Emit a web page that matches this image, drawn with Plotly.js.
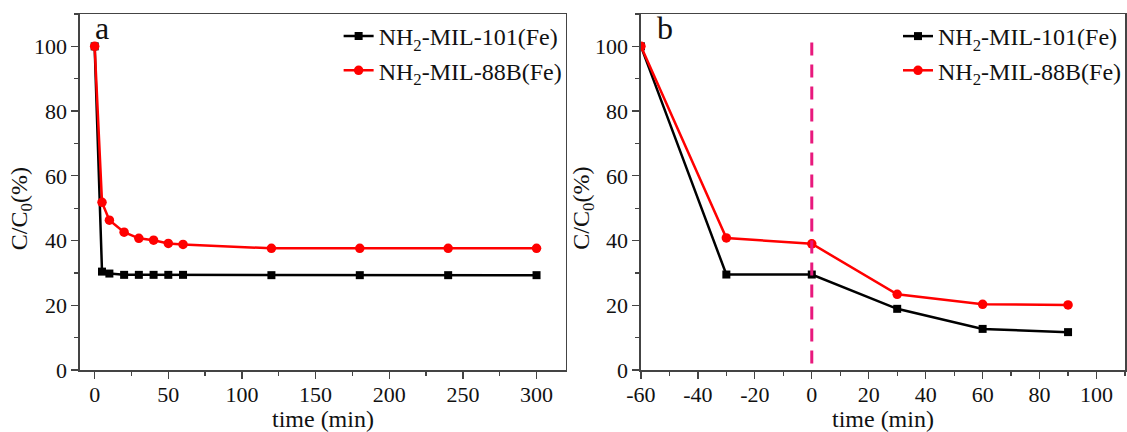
<!DOCTYPE html>
<html>
<head>
<meta charset="utf-8">
<script src="https://cdn.plot.ly/plotly-3.0.1.min.js"></script>
<style>html,body{margin:0;padding:0;background:#fff;}#chart{width:1127px;height:432px;}</style>
</head>
<body>
<div id="chart"></div>
<script>
// Panel a
const timeA = [0, 5, 10, 20, 30, 40, 50, 60, 120, 180, 240, 300];
const mil101A = [100, 30.4, 29.8, 29.4, 29.4, 29.4, 29.4, 29.4, 29.3, 29.3, 29.3, 29.3];
const mil88bA = [100, 51.8, 46.3, 42.6, 40.7, 40.1, 39.1, 38.8, 37.6, 37.6, 37.6, 37.6];
// Panel b
const timeB = [-60, -30, 0, 30, 60, 90];
const mil101B = [100, 29.5, 29.5, 18.9, 12.7, 11.7];
const mil88bB = [100, 40.8, 39.0, 23.4, 20.3, 20.1];
const seriesNames = ["NH<sub>2</sub>-MIL-101(Fe)", "NH<sub>2</sub>-MIL-88B(Fe)"];
const panelLabels = ["a", "b"];
const xTickValsB = [-60, -40, -20, 0, 20, 40, 60, 80, 100];
const xTickTextB = ["-60", "-40", "-20", "0", "20", "40", "60", "80", "100"];
const xTitle = "time (min)";
const yTitle = "C/C<sub>0</sub>(%)";
const lightOnTime = 0;

const FONT = 'Liberation Serif';
const blackStyle = {line: {color: '#000000', width: 2.5}, marker: {symbol: 'square', size: 8, color: '#000000'}};
const redStyle = {line: {color: '#ff0000', width: 2.5}, marker: {symbol: 'circle', size: 9.5, color: '#ff0000'}};

const traces = [
  Object.assign({x: timeA, y: mil101A, name: seriesNames[0], mode: 'lines+markers', xaxis: 'x', yaxis: 'y', legend: 'legend'}, blackStyle),
  Object.assign({x: timeA, y: mil88bA, name: seriesNames[1], mode: 'lines+markers', xaxis: 'x', yaxis: 'y', legend: 'legend'}, redStyle),
  Object.assign({x: timeB, y: mil101B, name: seriesNames[0], mode: 'lines+markers', xaxis: 'x2', yaxis: 'y2', legend: 'legend2'}, blackStyle),
  Object.assign({x: timeB, y: mil88bB, name: seriesNames[1], mode: 'lines+markers', xaxis: 'x2', yaxis: 'y2', legend: 'legend2'}, redStyle)
];

const axisCommon = {
  showline: true, mirror: true, linecolor: '#444', linewidth: 1.5,
  ticks: 'outside', ticklen: 7, tickwidth: 1.3, tickcolor: '#444',
  showgrid: false, zeroline: false,
  tickfont: {family: FONT, size: 22, color: '#111'},
  automargin: false
};
const minorCommon = {ticks: 'outside', ticklen: 4, tickcolor: '#444', tickwidth: 1.3};

const dA = [80 / 1127, 566.5 / 1127];
const dB = [641.5 / 1127, 1126 / 1127];
const titleFont = {family: FONT, size: 24, color: '#111'};

const layout = {
  width: 1127, height: 432,
  margin: {l: 0, r: 0, t: 14, b: 62},
  paper_bgcolor: '#fff', plot_bgcolor: '#fff',
  font: {family: FONT, color: '#111'},
  xaxis: Object.assign({}, axisCommon, {
    domain: dA, range: [-10, 320], tick0: 0, dtick: 50, ticklabelstandoff: -3,
    minor: Object.assign({dtick: 25}, minorCommon),
    title: {text: xTitle, font: titleFont, standoff: 2}
  }),
  yaxis: Object.assign({}, axisCommon, {
    anchor: 'x', range: [0, 110], tick0: 0, dtick: 20,
    minor: Object.assign({dtick: 10}, minorCommon)
  }),
  xaxis2: Object.assign({}, axisCommon, {
    domain: dB, anchor: 'y2', range: [-60, 110], ticklabelstandoff: -3,
    tickmode: 'array', tickvals: xTickValsB, ticktext: xTickTextB,
    minor: Object.assign({tick0: 0, dtick: 10}, minorCommon),
    title: {text: xTitle, font: titleFont, standoff: 2}
  }),
  yaxis2: Object.assign({}, axisCommon, {
    anchor: 'x2', range: [0, 110], tick0: 0, dtick: 20,
    minor: Object.assign({dtick: 10}, minorCommon)
  }),
  legend: {
    x: dA[1] + 0.001, xanchor: 'right', y: 1, yanchor: 'top',
    bgcolor: 'rgba(0,0,0,0)', borderwidth: 0,
    font: {family: FONT, size: 24, color: '#111'}
  },
  legend2: {
    x: dB[1] + 0.002, xanchor: 'right', y: 1, yanchor: 'top',
    bgcolor: 'rgba(0,0,0,0)', borderwidth: 0,
    font: {family: FONT, size: 24, color: '#111'}
  },
  shapes: [{
    type: 'line', xref: 'x2', yref: 'y2', x0: lightOnTime, x1: lightOnTime, y0: 2, y1: 104,
    line: {color: '#e8197d', width: 3, dash: '13px,9px'}, layer: 'above'
  }],
  annotations: [
    {text: panelLabels[0], xref: 'x', yref: 'y', x: 0, y: 110, xanchor: 'left', yanchor: 'top', xshift: -2, yshift: 6, showarrow: false, font: {family: FONT, size: 32, color: '#111'}},
    {text: panelLabels[1], xref: 'x2', yref: 'y2', x: -60, y: 110, xanchor: 'left', yanchor: 'top', xshift: 14, yshift: 6, showarrow: false, font: {family: FONT, size: 32, color: '#111'}},
    {text: yTitle, xref: 'paper', yref: 'y', x: 21 / 1127, y: 50, xanchor: 'center', yanchor: 'middle', textangle: -90, showarrow: false, font: {family: FONT, size: 24, color: '#111'}},
    {text: yTitle, xref: 'paper', yref: 'y2', x: 584 / 1127, y: 50, xanchor: 'center', yanchor: 'middle', textangle: -90, showarrow: false, font: {family: FONT, size: 24, color: '#111'}}
  ],
  showlegend: true
};

Plotly.newPlot('chart', traces, layout, {displayModeBar: false, staticPlot: true});
</script>
</body>
</html>
